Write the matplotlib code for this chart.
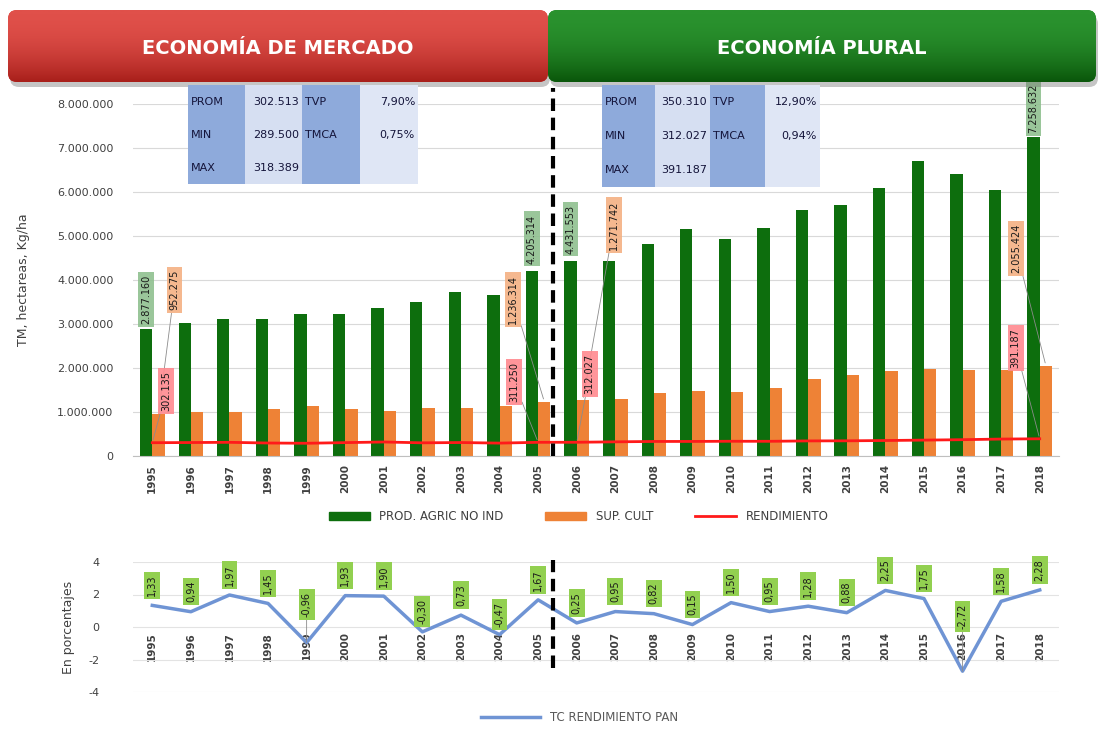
import matplotlib
matplotlib.use('Agg')
import matplotlib.pyplot as plt
import numpy as np
from matplotlib.patches import FancyBboxPatch, Rectangle, Patch
from matplotlib.lines import Line2D
from matplotlib.colors import LinearSegmentedColormap
from matplotlib.ticker import FuncFormatter

plt.rcParams['font.family'] = ['DejaVu Sans']
plt.rcParams['axes.unicode_minus'] = False

# datos
years = list(range(1995, 2019))
prod_agric = [2877160, 3030450, 3118200, 3121900, 3220400, 3224800, 3372100, 3489600,
              3731800, 3668200, 4205314, 4431553, 4433120, 4812300, 5148900, 4921600,
              5190300, 5588400, 5702100, 6098800, 6701200, 6398500, 6042100, 7258632]
sup_cult = [952275, 990400, 1003100, 1058200, 1139500, 1060300, 1021800, 1098700,
            1101200, 1136300, 1236314, 1271742, 1301500, 1420500, 1478600, 1450200,
            1552300, 1741100, 1830900, 1931200, 1968100, 1951300, 1958900, 2055424]
rendimiento = [302135, 305980, 310856, 295030, 289500, 304140, 318389, 299500,
               306090, 292870, 311250, 312027, 322000, 330500, 331000, 335000,
               334000, 343000, 345000, 352000, 361000, 371000, 385000, 391187]
tc_rend = [1.33, 0.94, 1.97, 1.45, -0.96, 1.93, 1.90, -0.30, 0.73, -0.47, 1.67, 0.25,
           0.95, 0.82, 0.15, 1.50, 0.95, 1.28, 0.88, 2.25, 1.75, -2.72, 1.58, 2.28]

stats_mercado = [["PROM", "302.513", "TVP", "7,90%"],
                 ["MIN", "289.500", "TMCA", "0,75%"],
                 ["MAX", "318.389", "", ""]]
stats_plural = [["PROM", "350.310", "TVP", "12,90%"],
                ["MIN", "312.027", "TMCA", "0,94%"],
                ["MAX", "391.187", "", ""]]

W, H = 1104, 729
fig = plt.figure(figsize=(W / 100, H / 100), dpi=100)


def fbox(l, t, r, b):
	return [l / W, 1 - b / H, (r - l) / W, (b - t) / H]


def miles(v, pos=None):
	return f"{int(round(v)):,}".replace(",", ".")


GREEN = '#0d6e0d'
ORANGE = '#ee8236'
RED = '#ff1a1a'
BLUE = '#6f94d4'

x = np.arange(len(years))
split = years.index(2006) - 0.62
bw = 0.32

# ---- grafico superior
ax = fig.add_axes(fbox(133, 104, 1059, 456))
ax.bar(x - bw / 2, prod_agric, bw, color=GREEN, zorder=2)
ax.bar(x + bw / 2, sup_cult, bw, color=ORANGE, zorder=2)
ax.plot(x, rendimiento, color=RED, lw=2, zorder=3)
ax.set_xlim(-0.5, len(years) - 0.5)
ax.set_ylim(0, 8e6)
ax.set_yticks(np.arange(0, 8.01e6, 1e6))
ax.yaxis.set_major_formatter(FuncFormatter(miles))
ax.yaxis.grid(True, color='#d9d9d9', lw=0.8)
ax.set_axisbelow(True)
for s in ['top', 'right', 'left']:
	ax.spines[s].set_visible(False)
ax.spines['bottom'].set_color('#bfbfbf')
ax.set_xticks(x)
ax.set_xticklabels(years, rotation=90, fontsize=7.5, fontweight='bold')
ax.tick_params(axis='both', length=0, colors='#404040')
ax.tick_params(axis='y', labelsize=8, pad=14)
ax.tick_params(axis='x', pad=6)
ax.set_ylabel('TM, hectareas, Kg/ha', fontsize=9, color='#404040')
ax.yaxis.set_label_coords(-0.111, 0.5)
ax.axvline(split, ymin=0, ymax=1.045, color='black', lw=3, ls=(0, (3, 1.6)), clip_on=False, zorder=4)

# etiquetas de datos (serie, desplazamiento de barra, color, indice, dx, dy en pixeles)
lab_specs = [
	(prod_agric, -bw / 2, '#8fc08f', 0, 0, 30),
	(prod_agric, -bw / 2, '#8fc08f', 10, 0, 32),
	(prod_agric, -bw / 2, '#8fc08f', 11, 0, 32),
	(prod_agric, -bw / 2, '#8fc08f', 23, 0, 28),
	(sup_cult, bw / 2, '#f4b183', 0, 16, 124),
	(sup_cult, bw / 2, '#f4b183', 10, -31, 102),
	(sup_cult, bw / 2, '#f4b183', 11, 31, 175),
	(sup_cult, bw / 2, '#f4b183', 23, -30, 117),
	(rendimiento, 0, '#ff8a8f', 0, 14, 52),
	(rendimiento, 0, '#ff8a8f', 10, -24, 60),
	(rendimiento, 0, '#ff8a8f', 11, 13, 68),
	(rendimiento, 0, '#ff8a8f', 23, -24, 91),
]
for serie, off, col, i, dx, dy in lab_specs:
	arrow = None
	if abs(dx) > 5 or dy > 40:
		arrow = dict(arrowstyle='-', color='#8c8c8c', lw=0.6, shrinkA=0, shrinkB=2)
	ax.annotate(miles(serie[i]), xy=(i + off, serie[i]), xytext=(dx, dy),
	            textcoords='offset pixels', rotation=90, ha='center', va='center',
	            fontsize=7, color='#1a1a1a', zorder=6, annotation_clip=False,
	            bbox=dict(boxstyle='square,pad=0.3', fc=col, ec='none', alpha=0.9),
	            arrowprops=arrow)

fig.legend(handles=[Patch(color=GREEN, label='PROD. AGRIC NO IND'),
                    Patch(color=ORANGE, label='SUP. CULT'),
                    Line2D([], [], color=RED, lw=2, label='RENDIMIENTO')],
           loc='center', bbox_to_anchor=(0.524, 0.291), ncol=3, frameon=False,
           fontsize=8.5, labelcolor='#404040', handlelength=3.5, columnspacing=3.5)

# ---- grafico inferior
ax2 = fig.add_axes(fbox(133, 562, 1059, 692))
ax2.plot(x, tc_rend, color=BLUE, lw=2.5, zorder=3)
ax2.set_xlim(-0.5, len(years) - 0.5)
ax2.set_ylim(-4, 4)
ax2.set_yticks([-4, -2, 0, 2, 4])
ax2.yaxis.grid(True, color='#e3e3e3', lw=0.8)
ax2.set_axisbelow(True)
for s in ['top', 'right', 'left']:
	ax2.spines[s].set_visible(False)
ax2.spines['bottom'].set_position(('data', 0))
ax2.spines['bottom'].set_visible(False)
ax2.set_xticks(x)
ax2.set_xticklabels(years, rotation=90, fontsize=7.5, fontweight='bold')
ax2.tick_params(axis='both', length=0, colors='#404040')
ax2.tick_params(axis='y', labelsize=8, pad=24)
ax2.set_ylabel('En porcentajes', fontsize=9, color='#404040')
ax2.yaxis.set_label_coords(-0.063, 0.5)
ax2.axvline(split, ymin=0.185, ymax=1.015, color='black', lw=3, ls=(0, (3, 1.6)), clip_on=False, zorder=4)

alto = {years.index(1999): 38, years.index(2016): 55}
for i, v in enumerate(tc_rend):
	dy = alto.get(i, 20)
	arrow = dict(arrowstyle='-', color='#8c8c8c', lw=0.6, shrinkA=0, shrinkB=0) if i in alto else None
	ax2.annotate(f"{v:.2f}".replace('.', ','), xy=(i, v), xytext=(0, dy),
	             textcoords='offset pixels', rotation=90, ha='center', va='center',
	             fontsize=7, color='#1a1a1a', zorder=6, annotation_clip=False,
	             bbox=dict(boxstyle='square,pad=0.3', fc='#92d050', ec='none'),
	             arrowprops=arrow)

fig.legend(handles=[Line2D([], [], color=BLUE, lw=2.5, label='TC RENDIMIENTO PAN')],
           loc='center', bbox_to_anchor=(0.525, 0.016), frameon=False,
           fontsize=8.5, labelcolor='#595959', handlelength=5)

# ---- capa de pixeles: titulos y cuadros de estadisticas
ov = fig.add_axes([0, 0, 1, 1])
ov.set_xlim(0, W)
ov.set_ylim(H, 0)
ov.axis('off')
ov.patch.set_visible(False)

banners = [(8, 548, '#e0504a', '#a81f1a', 'ECONOMÍA DE MERCADO'),
           (548, 1096, '#2a922e', '#0a560a', 'ECONOMÍA PLURAL')]
for l, r, c1, c2, txt in banners:
	t, b = 10, 82
	ov.add_patch(FancyBboxPatch((l + 2, t + 5), r - l, b - t, boxstyle='round,pad=0,rounding_size=9',
	                            fc='#6f6f6f', ec='none', alpha=0.4, zorder=1))
	p = FancyBboxPatch((l, t), r - l, b - t, boxstyle='round,pad=0,rounding_size=9', fc=c1, ec='none',
	                   zorder=1)
	ov.add_patch(p)
	cmap = LinearSegmentedColormap.from_list('g', [c1, c2])
	grad = np.linspace(0, 1, 100).reshape(-1, 1) ** 2
	im = ov.imshow(grad, cmap=cmap, extent=(l, r, b, t), aspect='auto', origin='upper', zorder=2)
	im.set_clip_path(p)
	ov.text((l + r) / 2, (t + b) / 2 + 2, txt, color='white', fontsize=14, fontweight='bold',
	        ha='center', va='center', zorder=3)

ov.set_xlim(0, W)
ov.set_ylim(H, 0)

cell_cols = ['#8eaadb', '#d6dff2', '#8eaadb', '#dfe6f5']
for cols, rows_top, row_h, tabla in [([188, 245, 302, 360, 418], 85, 33, stats_mercado),
                                     ([602, 655, 710, 765, 820], 85, 34, stats_plural)]:
	for c in range(4):
		ov.add_patch(Rectangle((cols[c], rows_top), cols[c + 1] - cols[c], row_h * 3,
		                       fc=cell_cols[c], ec='none'))
	for rr, fila in enumerate(tabla):
		yc = rows_top + row_h * (rr + 0.5)
		ov.text(cols[0] + 3, yc, fila[0], fontsize=8, ha='left', va='center', color='#14143a')
		ov.text(cols[2] - 3, yc, fila[1], fontsize=8, ha='right', va='center', color='#14143a')
		ov.text(cols[2] + 3, yc, fila[2], fontsize=8, ha='left', va='center', color='#14143a')
		ov.text(cols[4] - 3, yc, fila[3], fontsize=8, ha='right', va='center', color='#14143a')

fig.savefig('out.png', dpi=100)
